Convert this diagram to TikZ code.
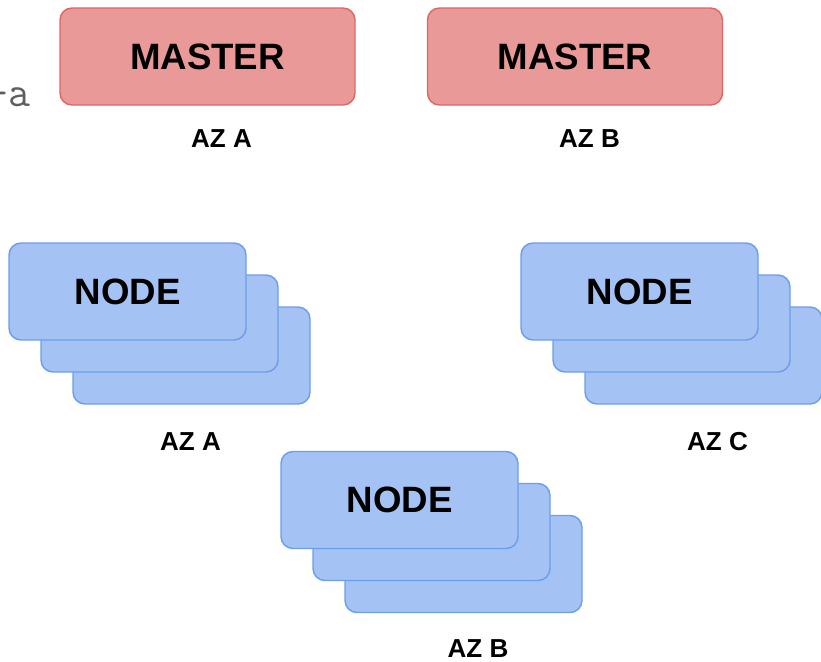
\documentclass[tikz,border=0pt]{standalone}
\usepackage{fontspec}
\setmainfont{Liberation Sans}
\usetikzlibrary{positioning}
\definecolor{masterfill}{HTML}{EA9999}
\definecolor{masterline}{HTML}{E06666}
\definecolor{workerfill}{HTML}{A4C2F4}
\definecolor{workerline}{HTML}{6D9EEB}
\definecolor{cmdgray}{HTML}{5E5E5E}

\begin{document}
\begin{tikzpicture}[
    x=0.75pt, y=-0.75pt,
    master/.style={draw=masterline, fill=masterfill, line width=1.1pt,
        rounded corners=9pt, minimum width=221.25pt, minimum height=72.75pt,
        inner sep=0pt, font=\fontsize{27.5}{33}\selectfont\bfseries},
    worker/.style={draw=workerline, fill=workerfill, line width=1.1pt,
        rounded corners=9pt, minimum width=177.75pt, minimum height=72.75pt,
        inner sep=0pt, font=\fontsize{27.5}{33}\selectfont\bfseries},
    zone/.style={inner sep=0pt, font=\fontsize{19.5}{23}\selectfont\bfseries},
    cmd/.style={inner sep=0pt, text=cmdgray, font=\ttfamily\fontsize{32}{36}\selectfont},
]

%--- Page frame ---
\useasboundingbox (0,0) rectangle (821,661);
\def\stackstep{32}  % offset between stacked node cards

%============================================================
% Command text, cut by the left edge
%============================================================
\node[cmd, anchor=base east] (cmd) at (30.5,106) {-a};

%============================================================
% Masters
%============================================================
\node[master] (masterA) at (207.5,56.5) {MASTER};
\node[master] (masterB) at (575,56.5) {MASTER};
\node[zone] (azMasterA) at (221.5,138.5) {AZ A};
\node[zone] (azMasterB) at (589.5,138.5) {AZ B};

%============================================================
% Node stacks, drawn back to front
%============================================================
\foreach \sx/\sy/\zn in {127.5/291.5/A, 639.5/291.5/C, 399.5/500/B} {
    \foreach \k in {2,1} {
        \node[worker] (node\zn\k) at (\sx+\stackstep*\k, \sy+\stackstep*\k) {};
    }
    \node[worker] (node\zn0) at (\sx,\sy) {NODE};
}

%--- Zone labels under the stacks ---
\node[zone] (azNodeA) at (190.5,441.5) {AZ A};
\node[zone] (azNodeC) at (717.5,441.5) {AZ C};
\node[zone] (azNodeB) at (478,648.5) {AZ B};

\end{tikzpicture}
\end{document}
